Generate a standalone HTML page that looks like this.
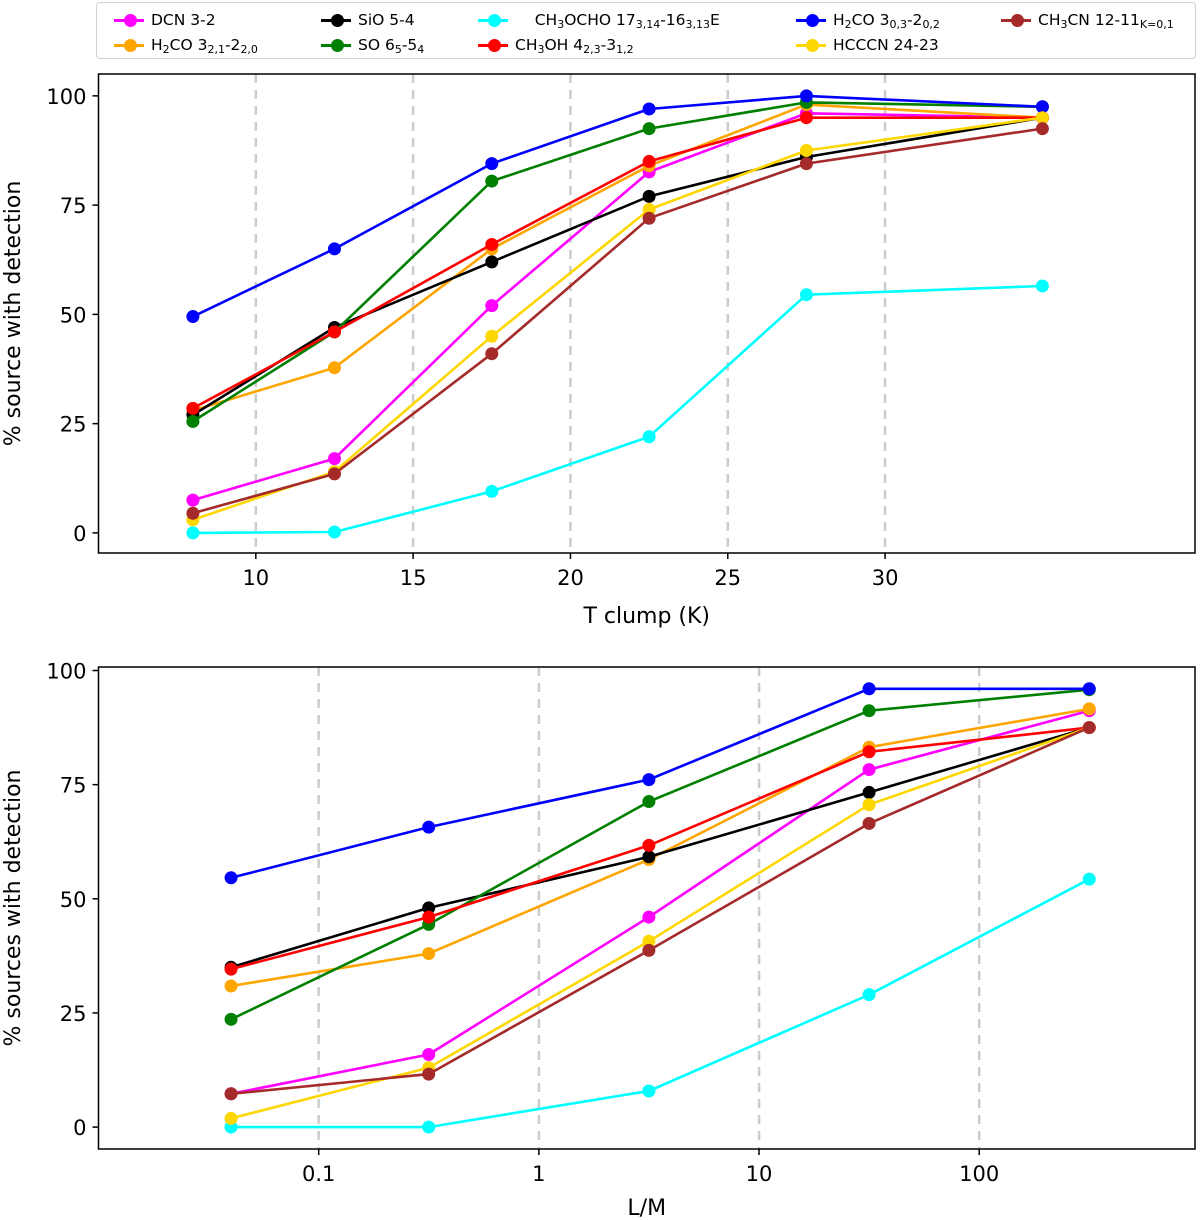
<!DOCTYPE html>
<html><head><meta charset="utf-8"><style>
html,body{margin:0;padding:0;background:#fff}
svg{display:block}
text{font-family:"DejaVu Sans","Liberation Sans",sans-serif;fill:#000}
</style></head><body>
<svg id="chart" width="1200" height="1220" viewBox="0 0 1200 1220" xmlns="http://www.w3.org/2000/svg"></svg>
<script>
const seriesNames = ["DCN 3-2","H2CO 321","SiO 5-4","SO 65-54","CH3OCHO","CH3OH","H2CO 303","HCCCN 24-23","CH3CN"];
const seriesColors = ["#ff00ff","#ffa500","#000000","#008000","#00ffff","#ff0000","#0000ff","#ffd700","#a52a2a"];
const drawOrder = [0,1,2,3,4,5,6,7,8];
const tempX = [8,12.5,17.5,22.5,27.5,35];
const tempDCN = [7.5,17,52,82.6,96,95];
const tempH2CO321 = [28,37.8,65,84,98,95];
const tempSiO = [27,47,62,77,86,95];
const tempSO = [25.5,46,80.5,92.5,98.5,97.5];
const tempCH3OCHO = [0,0.2,9.5,22,54.5,56.5];
const tempCH3OH = [28.5,46,66,85,95,95];
const tempH2CO303 = [49.5,65,84.5,97,100,97.5];
const tempHCCCN = [3,14,45,74,87.5,95];
const tempCH3CN = [4.5,13.5,41,72,84.5,92.5];
const lmX = [0.04,0.316,3.16,31.6,316];
const lmDCN = [7.3,15.9,46,78.3,91.2];
const lmH2CO321 = [30.9,38,58.6,83.2,91.6];
const lmSiO = [35,48,59.2,73.3,87.5];
const lmSO = [23.6,44.4,71.3,91.2,95.8];
const lmCH3OCHO = [0,0,7.9,29,54.3];
const lmCH3OH = [34.6,46,61.7,82.2,87.5];
const lmH2CO303 = [54.6,65.7,76.1,96,96];
const lmHCCCN = [1.9,13,40.7,70.6,87.5];
const lmCH3CN = [7.3,11.6,38.7,66.5,87.5];
const yTicks = [0,25,50,75,100];
const tempTicks = [10,15,20,25,30];
const lmTicks = [0.1,1,10,100];
const lmTickLabels = ["0.1","1","10","100"];

const tempSeries=[tempDCN,tempH2CO321,tempSiO,tempSO,tempCH3OCHO,tempCH3OH,tempH2CO303,tempHCCCN,tempCH3CN];
const lmSeries=[lmDCN,lmH2CO321,lmSiO,lmSO,lmCH3OCHO,lmCH3OH,lmH2CO303,lmHCCCN,lmCH3CN];
const NS="http://www.w3.org/2000/svg";
const svg=document.getElementById('chart');
function mk(tag,attrs,parent){const e=document.createElementNS(NS,tag);for(const k in attrs)e.setAttribute(k,attrs[k]);(parent||svg).appendChild(e);return e;}

function panel(cfg){
  const g=mk('g',{});
  
  
  const L=98.5,R=1195,T=cfg.top,B=cfg.bottom;
  const sx=v=>L+(cfg.tx(v)-cfg.xmin)/(cfg.xmax-cfg.xmin)*(R-L);
  const sy=v=>B-(v-cfg.ymin)/(cfg.ymax-cfg.ymin)*(B-T);
  cfg.xticks.forEach((t,i)=>{
    const x=sx(t);
    const gl=mk('line',{x1:x,x2:x,y1:T,y2:B,stroke:'#cccccc','stroke-width':2.5,'stroke-dasharray':'9,7'},g);
    
    
    mk('line',{x1:x,x2:x,y1:B,y2:B+6,stroke:'#000','stroke-width':1.5},g);
    const tl=mk('text',{x:x,y:B+32,'text-anchor':'middle','font-size':21},g);
    tl.textContent=cfg.xlabels[i];
    
    
  });
  yTicks.forEach(t=>{
    const y=sy(t);
    mk('line',{x1:L-6,x2:L,y1:y,y2:y,stroke:'#000','stroke-width':1.5},g);
    const tl=mk('text',{x:L-12,y:y+8,'text-anchor':'end','font-size':21},g);
    tl.textContent=t;
    
    
  });
  drawOrder.forEach(si=>{
    const vals=cfg.series[si];
    const pts=cfg.xs.map((xv,i)=>sx(xv).toFixed(1)+','+sy(vals[i]).toFixed(1)).join(' ');
    const pl=mk('polyline',{points:pts,fill:'none',stroke:seriesColors[si],'stroke-width':2.6,'stroke-linejoin':'round'},g);
    
    
    cfg.xs.forEach((xv,i)=>{
      const c=mk('circle',{cx:sx(xv),cy:sy(vals[i]),r:6.5,fill:seriesColors[si]},g);
      
      
    });
  });
  mk('rect',{x:L,y:T,width:R-L,height:B-T,fill:'none',stroke:'#000','stroke-width':1.5},g);
  const xt=mk('text',{x:(L+R)/2,y:cfg.xtitleY,'text-anchor':'middle','font-size':22},g);
  xt.textContent=cfg.xtitle;
  
  
  const cy=(T+B)/2;
  const yt=mk('text',{x:0,y:0,'text-anchor':'middle','font-size':22,transform:`translate(20,${cy}) rotate(-90)`},g);
  yt.textContent=cfg.ytitle;
  
  
}

panel({name:'temperature-panel',top:74,bottom:553,xmin:5,xmax:39.85,ymin:-4.6,ymax:105,tx:v=>v,
  xticks:tempTicks,xlabels:tempTicks.map(String),xs:tempX,series:tempSeries,
  xtitle:'T clump (K)',xtitleY:623,ytitle:'% source with detection'});
panel({name:'luminosity-mass-panel',top:667,bottom:1149,xmin:-2,xmax:2.98,ymin:-4.8,ymax:100.77,tx:v=>Math.log10(v),
  xticks:lmTicks,xlabels:lmTickLabels,xs:lmX,series:lmSeries,
  xtitle:'L/M',xtitleY:1215,ytitle:'% sources with detection'});
</script>
<div style="position:absolute;left:96px;top:2px;width:1100px;height:57px;border:1.5px solid #d0d0d0;border-radius:4px;box-sizing:border-box;background:#fff;font-family:'DejaVu Sans','Liberation Sans',sans-serif;font-size:15.5px;">
<style>
.le{position:absolute;white-space:nowrap;line-height:18px}
.le i{position:absolute;left:-37px;top:8px;width:30px;height:3px}
.le b{position:absolute;left:-27px;top:3px;width:13px;height:13px;border-radius:50%}
.le sub{font-size:11px;vertical-align:-3px;line-height:0}
</style>
<div class="le" style="left:54px;top:8px"><i style="background:#ff00ff"></i><b style="background:#ff00ff"></b>DCN 3-2</div>
<div class="le" style="left:261px;top:8px"><i style="background:#000"></i><b style="background:#000"></b>SiO 5-4</div>
<div class="le" style="left:418px;top:8px"><i style="background:#00ffff"></i><b style="background:#00ffff"></b>&nbsp;&nbsp;&nbsp;&nbsp;CH<sub>3</sub>OCHO 17<sub>3,14</sub>-16<sub>3,13</sub>E</div>
<div class="le" style="left:736px;top:8px"><i style="background:#0000ff"></i><b style="background:#0000ff"></b>H<sub>2</sub>CO 3<sub>0,3</sub>-2<sub>0,2</sub></div>
<div class="le" style="left:941px;top:8px"><i style="background:#a52a2a"></i><b style="background:#a52a2a"></b>CH<sub>3</sub>CN 12-11<sub>K=0,1</sub></div>
<div class="le" style="left:54px;top:33px"><i style="background:#ffa500"></i><b style="background:#ffa500"></b>H<sub>2</sub>CO 3<sub>2,1</sub>-2<sub>2,0</sub></div>
<div class="le" style="left:261px;top:33px"><i style="background:#008000"></i><b style="background:#008000"></b>SO 6<sub>5</sub>-5<sub>4</sub></div>
<div class="le" style="left:418px;top:33px"><i style="background:#ff0000"></i><b style="background:#ff0000"></b>CH<sub>3</sub>OH 4<sub>2,3</sub>-3<sub>1,2</sub></div>
<div class="le" style="left:736px;top:33px"><i style="background:#ffd700"></i><b style="background:#ffd700"></b>HCCCN 24-23</div>
</div>
</body></html>
